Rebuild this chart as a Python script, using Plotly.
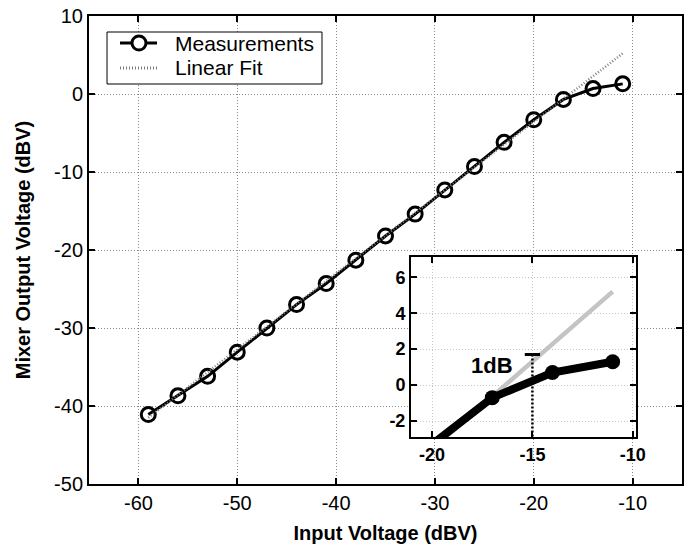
import plotly.graph_objects as go

# ---- data ----
input_dbv = [-59, -56, -53, -50, -47, -44, -41, -38, -35, -32, -29, -26, -23, -20, -17, -14, -11]
output_dbv = [-41.1, -38.7, -36.2, -33.1, -30.0, -27.0, -24.3, -21.3, -18.2, -15.4,
              -12.3, -9.3, -6.2, -3.3, -0.7, 0.7, 1.3]
fit_x = [-59, -11]
fit_y = [-41.5, 5.2]

main_x_ticks = [-60, -50, -40, -30, -20, -10]
main_y_ticks = [-50, -40, -30, -20, -10, 0, 10]
inset_x_ticks = [-20, -15, -10]
inset_y_ticks = [-2, 0, 2, 4, 6]
main_x_ticklabels = ["-60", "-50", "-40", "-30", "-20", "-10"]
main_y_ticklabels = ["-50", "-40", "-30", "-20", "-10", "0", "10"]
inset_x_ticklabels = ["-20", "-15", "-10"]
inset_y_ticklabels = ["-2", "0", "2", "4", "6"]

db_marker_x = -15
db_marker_top = 1.7
db_marker_bottom = -2.9
db_bar_half = 0.38
db_label = "1dB"
legend_labels = ["Measurements", "Linear Fit"]

FONT = "Liberation Sans, Arial, Helvetica, sans-serif"

fig = go.Figure()

# main plot
fig.add_trace(go.Scatter(
    x=input_dbv, y=output_dbv, mode="lines+markers", name=legend_labels[0], showlegend=False,
    line=dict(color="black", width=3),
    marker=dict(symbol="circle-open", size=14, color="black", line=dict(width=3, color="black")),
    xaxis="x", yaxis="y"))
fig.add_trace(go.Scatter(
    x=fit_x, y=fit_y, mode="lines", name=legend_labels[1], showlegend=False,
    line=dict(color="#7a7a7a", width=2.5, dash="1px,2px"),
    xaxis="x", yaxis="y"))

# inset
fig.add_trace(go.Scatter(
    x=fit_x, y=fit_y, mode="lines", showlegend=False,
    line=dict(color="#c4c4c4", width=4.5),
    xaxis="x2", yaxis="y2"))
fig.add_trace(go.Scatter(
    x=input_dbv, y=output_dbv, mode="lines+markers", showlegend=False,
    line=dict(color="black", width=8),
    marker=dict(symbol="circle", size=15, color="black"),
    xaxis="x2", yaxis="y2"))
fig.add_trace(go.Scatter(
    x=[db_marker_x, db_marker_x], y=[db_marker_top, db_marker_bottom], mode="lines",
    showlegend=False, line=dict(color="black", width=2.5, dash="2px,2px"),
    xaxis="x2", yaxis="y2"))
fig.add_trace(go.Scatter(
    x=[db_marker_x - db_bar_half, db_marker_x + db_bar_half], y=[db_marker_top, db_marker_top],
    mode="lines", showlegend=False, line=dict(color="black", width=3),
    xaxis="x2", yaxis="y2"))

fig.add_annotation(x=-17.0, y=1.1, xref="x2", yref="y2", text="<b>%s</b>" % db_label,
                   showarrow=False, font=dict(family=FONT, size=22, color="black"))

# ---- hand-drawn legend (paper coordinates) ----
fig.add_shape(type="rect", xref="paper", yref="paper", x0=0.0304, x1=0.3929, y0=0.8547, y1=0.9658,
              line=dict(color="black", width=1), fillcolor="white", layer="above")
fig.add_shape(type="line", xref="paper", yref="paper", x0=0.0523, x1=0.1147, y0=0.9423, y1=0.9423,
              line=dict(color="black", width=3), layer="above")
fig.add_shape(type="circle", xref="paper", yref="paper", xsizemode="pixel", ysizemode="pixel",
              xanchor=0.0843, yanchor=0.9423, x0=-7, x1=7, y0=-7, y1=7,
              line=dict(color="black", width=3), fillcolor="white", layer="above")
fig.add_shape(type="line", xref="paper", yref="paper", x0=0.0523, x1=0.1147, y0=0.8889, y1=0.8889,
              line=dict(color="#7a7a7a", width=3, dash="1px,2px"), layer="above")
fig.add_annotation(x=0.1417, y=0.9423, xref="paper", yref="paper", xanchor="left", yanchor="middle",
                   text=legend_labels[0], showarrow=False, font=dict(family=FONT, size=21, color="black"))
fig.add_annotation(x=0.1417, y=0.8889, xref="paper", yref="paper", xanchor="left", yanchor="middle",
                   text=legend_labels[1], showarrow=False, font=dict(family=FONT, size=21, color="black"))

axis_common = dict(showline=True, linecolor="black", linewidth=2, mirror="ticks",
                   ticks="inside", ticklen=6, tickwidth=2, tickcolor="black",
                   showgrid=True, gridcolor="#8a8a8a", griddash="1px,2px", gridwidth=1,
                   zeroline=False, automargin=False)
inset_common = {**axis_common, "gridcolor": "#c8c8c8"}

fig.update_layout(
    width=692, height=548,
    margin=dict(l=89, r=10, t=16, b=64),
    paper_bgcolor="white", plot_bgcolor="white",
    font=dict(family=FONT, color="black"),
    xaxis=dict(range=[-65, -5], tickvals=main_x_ticks, ticktext=main_x_ticklabels, domain=[0, 1],
               tickfont=dict(size=20),
               title=dict(text="<b>Input Voltage (dBV)</b>", font=dict(size=20), standoff=13),
               **axis_common),
    yaxis=dict(range=[-50, 10], tickvals=main_y_ticks, ticktext=main_y_ticklabels, domain=[0, 1],
               tickfont=dict(size=20),
               title=dict(text="<b>Mixer Output Voltage (dBV)</b>", font=dict(size=20), standoff=18),
               **axis_common),
    xaxis2=dict(range=[-21.05, -9.85], tickvals=inset_x_ticks, ticktext=inset_x_ticklabels,
                domain=[0.543, 0.922], anchor="y2", tickfont=dict(size=18, weight="bold"),
                **inset_common),
    yaxis2=dict(range=[-2.9, 7.1], tickvals=inset_y_ticks, ticktext=inset_y_ticklabels,
                domain=[0.100, 0.484], anchor="x2", tickfont=dict(size=18, weight="bold"),
                **inset_common),
    showlegend=False,
)

fig.write_html("out.html", config={"displayModeBar": False},
               post_script="document.body.style.margin='0';document.body.style.overflow='hidden';")
